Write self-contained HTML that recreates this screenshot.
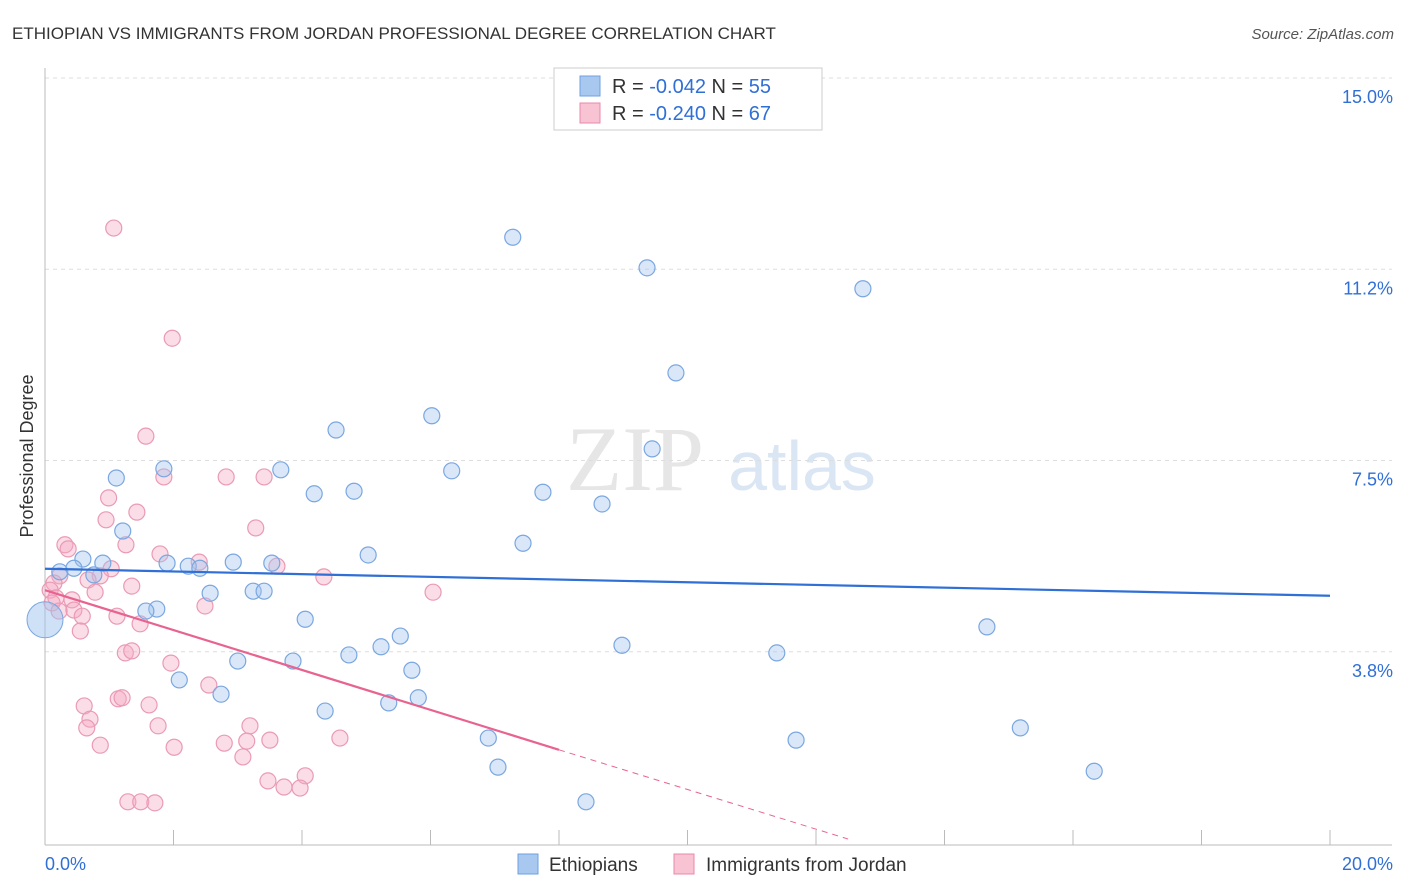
<!DOCTYPE html>
<html><head><meta charset="utf-8">
<style>
body{margin:0;background:#fff;font-family:"Liberation Sans",sans-serif;}
svg{display:block}
</style></head><body>
<svg id="chart" width="1406" height="892" viewBox="0 0 1406 892">
<text x="12" y="39" font-size="17" fill="#333">ETHIOPIAN VS IMMIGRANTS FROM JORDAN PROFESSIONAL DEGREE CORRELATION CHART</text>
<text x="1394" y="39" font-size="15" fill="#555" font-style="italic" text-anchor="end">Source: ZipAtlas.com</text>
<g>
<text x="635" y="490" font-size="92" fill="#e6e6e6" font-family="Liberation Serif,serif" text-anchor="middle">ZIP</text>
<text x="802" y="490" font-size="70" fill="#dbe6f5" text-anchor="middle">atlas</text>
</g>
<g id="grid"></g>
<g id="axes"></g>
<g id="marks"></g>
<text transform="translate(33,456) rotate(-90)" font-size="18" fill="#333" text-anchor="middle">Professional Degree</text>
<g>
<rect x="554" y="68" width="268" height="62" fill="#fff" stroke="#ccc"/>
<rect x="580" y="76" width="20" height="20" fill="#a9c8ef" stroke="#6fa0e0"/>
<text x="612" y="93" font-size="20" fill="#333">R = <tspan fill="#2f6fd6">-0.042</tspan>   N = <tspan fill="#2f6fd6">55</tspan></text>
<rect x="580" y="103" width="20" height="20" fill="#f8c4d3" stroke="#e889a8"/>
<text x="612" y="120" font-size="20" fill="#333">R = <tspan fill="#2f6fd6">-0.240</tspan>   N = <tspan fill="#2f6fd6">67</tspan></text>
</g>
<g>
<rect x="518" y="854" width="20" height="20" fill="#a9c8ef" stroke="#6fa0e0"/>
<text x="549" y="871" font-size="19" fill="#333">Ethiopians</text>
<rect x="674" y="854" width="20" height="20" fill="#f8c4d3" stroke="#e889a8"/>
<text x="706" y="871" font-size="19" fill="#333">Immigrants from Jordan</text>
</g>
</svg>
<script>
const yTicks=[15.0,11.25,7.5,3.75];
const yTickLabels=["15.0%","11.2%","7.5%","3.8%"];
const xTicks=[0,2,4,6,8,10,12,14,16,18,20];
const blueX=[7.28,9.37,12.73,9.82,6.02,4.53,9.45,6.33,1.85,1.11,3.67,4.19,4.81,7.75,8.67,1.21,7.44,5.03,0.59,0.90,1.90,2.23,2.41,2.93,3.53,0.23,0.45,0.76,3.24,3.41,2.57,1.74,1.57,4.05,5.53,5.23,4.73,3.86,3.00,5.71,8.98,11.39,14.66,2.09,2.74,5.35,5.81,4.36,6.90,11.69,15.18,7.05,16.33,8.42];
const blueY=[12.25,11.65,11.24,9.59,8.75,8.47,8.10,7.67,7.71,7.53,7.69,7.22,7.27,7.25,7.02,6.49,6.25,6.02,5.94,5.86,5.86,5.80,5.76,5.88,5.86,5.69,5.76,5.63,5.31,5.31,5.27,4.96,4.92,4.76,4.43,4.22,4.06,3.94,3.94,3.76,4.25,4.10,4.61,3.57,3.29,3.12,3.22,2.96,2.43,2.39,2.63,1.86,1.78,1.18];
const bigBlue=[0,4.75];
const pinkX=[1.07,1.98,1.57,1.85,2.82,3.41,0.99,1.43,0.95,3.28,0.31,1.26,0.36,1.79,2.40,3.61,1.03,0.23,0.86,4.34,0.14,1.35,0.67,0.08,0.78,6.04,0.17,0.42,0.11,2.49,0.22,0.45,0.58,1.12,1.48,0.55,1.25,1.35,1.96,2.55,1.14,1.20,0.61,1.62,0.70,0.65,1.76,3.19,0.86,2.01,2.79,3.14,3.50,4.59,3.08,3.47,4.05,3.72,3.97,1.29,1.49,1.71];
const pinkY=[12.43,10.27,8.35,7.55,7.55,7.55,7.14,6.86,6.71,6.55,6.22,6.22,6.14,6.04,5.88,5.80,5.75,5.61,5.61,5.59,5.47,5.41,5.53,5.33,5.29,5.29,5.18,5.14,5.08,5.02,4.92,4.94,4.82,4.82,4.67,4.53,4.10,4.14,3.90,3.47,3.20,3.22,3.06,3.08,2.80,2.63,2.67,2.67,2.29,2.25,2.33,2.37,2.39,2.43,2.06,1.59,1.69,1.47,1.45,1.18,1.18,1.16];
const blueTrend=[[0,5.75],[20,5.22]];
const pinkTrendSolid=[[0,5.33],[8.0,2.20]];
const pinkTrendDash=[[8.0,2.20],[12.5,0.45]];

const NS="http://www.w3.org/2000/svg";
const X=v=>45+v*64.25;
const Y=v=>97+(15-v)*51;
function mk(tag,attrs,parent){const e=document.createElementNS(NS,tag);for(const k in attrs)e.setAttribute(k,attrs[k]);parent.appendChild(e);return e;}
const grid=document.getElementById('grid'),axes=document.getElementById('axes'),marks=document.getElementById('marks');
yTicks.forEach((t,i)=>{
  const g=mk('line',{x1:45,x2:1392,y1:Y(t)-19,y2:Y(t)-19,stroke:'#ddd','stroke-dasharray':'4,4'},grid);
  
  
  const l=mk('text',{x:1393,y:Y(t)+6,'font-size':18,fill:'#2f6fd6','text-anchor':'end'},axes);
  l.textContent=yTickLabels[i];
  
  
});
const ax=mk('line',{x1:45,x2:1392,y1:845,y2:845,stroke:'#bbb'},axes);


const ay=mk('line',{x1:45,x2:45,y1:68,y2:845,stroke:'#bbb'},axes);


xTicks.forEach(t=>{if(t===0)return;
  const k=mk('line',{x1:X(t),x2:X(t),y1:830,y2:845,stroke:'#bbb'},axes);
  
  
});
const xl0=mk('text',{x:45,y:870,'font-size':18,fill:'#2f6fd6'},axes);xl0.textContent='0.0%';


const xl1=mk('text',{x:1393,y:870,'font-size':18,fill:'#2f6fd6','text-anchor':'end'},axes);xl1.textContent='20.0%';



pinkX.forEach((v,i)=>{
  const c=mk('circle',{cx:X(v),cy:Y(pinkY[i]),r:8,fill:'rgba(245,170,195,0.4)',stroke:'#ea9ab4','stroke-width':1.2},marks);
  
  
});
blueX.forEach((v,i)=>{
  const c=mk('circle',{cx:X(v),cy:Y(blueY[i]),r:8,fill:'rgba(160,195,238,0.4)',stroke:'#7aa7e0','stroke-width':1.2},marks);
  
  
});
const bb=mk('circle',{cx:X(bigBlue[0]),cy:Y(bigBlue[1]),r:18,fill:'rgba(160,195,238,0.5)',stroke:'#7aa7e0'},marks);


function line(p,st,dash,name){
  const l=mk('line',{x1:X(p[0][0]),y1:Y(p[0][1]),x2:X(p[1][0]),y2:Y(p[1][1]),stroke:st,'stroke-width':dash?1:2.2},marks);
  if(dash)l.setAttribute('stroke-dasharray','6,5');
  
  
}
line(blueTrend,'#2f6fd6',false,'ethiopian-trendline');
line(pinkTrendSolid,'#e8638f',false,'jordan-trendline');
line(pinkTrendDash,'#e8638f',true,'jordan-trendline-extrapolated');
</script>
</body></html>
